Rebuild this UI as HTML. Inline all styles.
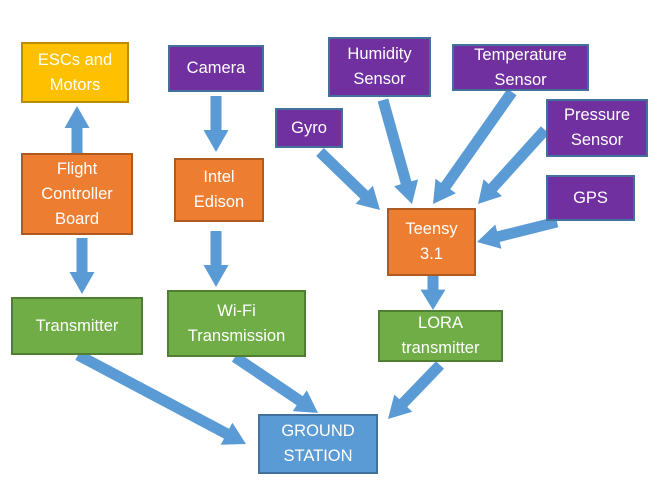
<!DOCTYPE html>
<html><head><style>
body{margin:0;background:#fff;width:666px;height:483px;overflow:hidden;position:relative;font-family:"Liberation Sans",sans-serif}
.b{position:absolute;box-sizing:border-box;display:flex;align-items:center;justify-content:center;text-align:center;color:#fff;font-size:16.5px;line-height:25px;border:2px solid}
.p{background:#7030a0;border-color:#41719c}
.o{background:#ed7d31;border-color:#ae5a21}
.g{background:#70ad47;border-color:#507e32}
.y{background:#ffc000;border-color:#bc8c00}
.bl{background:#5b9bd5;border-color:#41719c}
svg{position:absolute;left:0;top:0}
</style></head><body>
<svg id="s" width="666" height="483"></svg>
<div class="b y" style="left:21px;top:42px;width:108px;height:61px">ESCs and<br>Motors</div>
<div class="b p" style="left:168px;top:45px;width:96px;height:47px">Camera</div>
<div class="b o" style="left:21px;top:153px;width:112px;height:82px">Flight<br>Controller<br>Board</div>
<div class="b o" style="left:174px;top:158px;width:90px;height:64px">Intel<br>Edison</div>
<div class="b p" style="left:275px;top:108px;width:68px;height:40px">Gyro</div>
<div class="b p" style="left:328px;top:37px;width:103px;height:60px">Humidity<br>Sensor</div>
<div class="b p" style="left:452px;top:44px;width:137px;height:47px">Temperature<br>Sensor</div>
<div class="b p" style="left:546px;top:99px;width:102px;height:58px">Pressure<br>Sensor</div>
<div class="b p" style="left:546px;top:175px;width:89px;height:46px">GPS</div>
<div class="b o" style="left:387px;top:208px;width:89px;height:68px">Teensy<br>3.1</div>
<div class="b g" style="left:11px;top:297px;width:132px;height:58px">Transmitter</div>
<div class="b g" style="left:167px;top:290px;width:139px;height:67px">Wi-Fi<br>Transmission</div>
<div class="b g" style="left:378px;top:310px;width:125px;height:52px">LORA<br>transmitter</div>
<div class="b bl" style="left:258px;top:414px;width:120px;height:60px">GROUND<br>STATION</div>
<script>
var A=[[77,153,77,106],[216,96,216,152],[82,238,82,294],[216,231,216,287],[320,152,380,210],[383,100,412,204],[512,92,433,204],[545,130,478,204],[557,222,477,242],[433,276,433,310],[78,355,246,444],[235,357,318,413],[440,365,388,419]];
var s=document.getElementById('s'),h='';
A.forEach(function(a){var dx=a[2]-a[0],dy=a[3]-a[1],L=Math.hypot(dx,dy),ux=dx/L,uy=dy/L,nx=-uy,ny=ux,w=5.5,W=12.5,hl=Math.min(22,L*0.6);
var bx=a[2]-ux*hl,by=a[3]-uy*hl;
var p=[[a[0]+nx*w,a[1]+ny*w],[bx+nx*w,by+ny*w],[bx+nx*W,by+ny*W],[a[2],a[3]],[bx-nx*W,by-ny*W],[bx-nx*w,by-ny*w],[a[0]-nx*w,a[1]-ny*w]];
h+='<polygon fill="#5b9bd5" points="'+p.map(function(q){return q[0].toFixed(1)+','+q[1].toFixed(1)}).join(' ')+'"/>';});
s.innerHTML=h;
</script>
</body></html>
